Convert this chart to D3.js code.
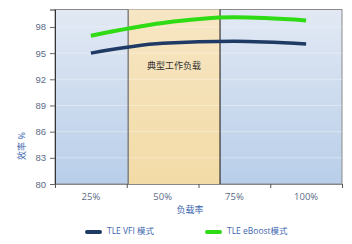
<!DOCTYPE html>
<html>
<head>
<meta charset="utf-8">
<script src="https://cdn.jsdelivr.net/npm/d3@7"></script>
<style>
  body { margin: 0; background: #fff; }
  svg { display: block; font-family: 'Open Sans', 'Noto Sans CJK SC', sans-serif; }
</style>
</head>
<body>
<div id="chart"></div>
<script>
const loads = [25, 50, 75, 100];
const loadLabels = ['25%', '50%', '75%', '100%'];
const vfi = [95.0, 96.13, 96.36, 96.05];
const eboost = [97.0, 98.45, 99.1, 98.75];
const yTicks = [80, 83, 86, 89, 92, 95, 98];
const typicalRange = [38, 70];
const typicalLabel = '典型工作负载';
const seriesNames = ['TLE VFI 模式', 'TLE eBoost模式'];

const width = 352;
const height = 244;
const margin = { top: 9.5, right: 10, bottom: 60, left: 55 };

const svg = d3.select('#chart')
  .append('svg')
  .attr('width', width)
  .attr('height', height);

const x = d3.scaleLinear()
  .domain([12.5, 112.5])
  .range([margin.left, width - margin.right]);

const y = d3.scaleLinear()
  .domain([80, 100])
  .range([height - margin.bottom, margin.top]);

const defs = svg.append('defs');
const bg = defs.append('linearGradient')
  .attr('id', 'bg').attr('x1', 0).attr('x2', 0).attr('y1', 0).attr('y2', 1);
bg.append('stop').attr('offset', '0%').attr('stop-color', '#e2e9f4');
bg.append('stop').attr('offset', '100%').attr('stop-color', '#b8cee9');

const band = defs.append('linearGradient')
  .attr('id', 'band').attr('x1', 0).attr('x2', 0).attr('y1', 0).attr('y2', 1);
band.append('stop').attr('offset', '0%').attr('stop-color', '#f7e6c4');
band.append('stop').attr('offset', '100%').attr('stop-color', '#f2dba6');

// plot background
svg.append('rect')
  .attr('x', x(12.5))
  .attr('y', y(100))
  .attr('width', x(112.5) - x(12.5))
  .attr('height', y(80) - y(100))
  .attr('fill', 'url(#bg)')
  .attr('stroke', '#8a8a8a')
  .attr('stroke-width', 1);

// typical workload band
svg.append('rect')
  .attr('x', x(typicalRange[0]))
  .attr('y', y(100))
  .attr('width', x(typicalRange[1]) - x(typicalRange[0]))
  .attr('height', y(80) - y(100))
  .attr('fill', 'url(#band)');

// grid lines
svg.append('g')
  .selectAll('line')
  .data(yTicks.filter((d) => d > 80))
  .enter()
  .append('line')
  .attr('x1', x(12.5))
  .attr('x2', x(112.5))
  .attr('y1', (d) => y(d))
  .attr('y2', (d) => y(d))
  .attr('stroke', '#ffffff')
  .attr('stroke-opacity', 0.35);

svg.append('line')
  .attr('x1', x(typicalRange[0]))
  .attr('x2', x(typicalRange[0]))
  .attr('y1', y(100))
  .attr('y2', y(80))
  .attr('stroke', '#808080')
  .attr('stroke-width', 1.5);

svg.append('line')
  .attr('x1', x(typicalRange[1]))
  .attr('x2', x(typicalRange[1]))
  .attr('y1', y(100))
  .attr('y2', y(80))
  .attr('stroke', '#111')
  .attr('stroke-width', 1);

svg.append('text')
  .attr('x', x((typicalRange[0] + typicalRange[1]) / 2))
  .attr('y', y(93.4))
  .attr('text-anchor', 'middle')
  .attr('dominant-baseline', 'middle')
  .attr('font-size', 9)
  .attr('fill', '#333')
  .text(typicalLabel);

// lines
const line = d3.line()
  .x((d, i) => x(loads[i]))
  .y((d) => y(d))
  .curve(d3.curveMonotoneX);

svg.append('path')
  .datum(eboost)
  .attr('d', line)
  .attr('fill', 'none')
  .attr('stroke', '#2fdb14')
  .attr('stroke-width', 4);

svg.append('path')
  .datum(vfi)
  .attr('d', line)
  .attr('fill', 'none')
  .attr('stroke', '#1f3a64')
  .attr('stroke-width', 3.5);

// y axis
const yAxis = svg.append('g')
  .attr('transform', `translate(${x(12.5)},0)`)
  .call(d3.axisLeft(y).tickValues(yTicks).tickSize(5).tickPadding(4));
yAxis.select('.domain').attr('stroke', '#333');
yAxis.selectAll('.tick line').attr('stroke', '#666');
yAxis.selectAll('text').attr('font-size', 9.5).attr('fill', '#5c6b86');

// x axis
const xAxis = svg.append('g')
  .attr('transform', `translate(0,${y(80)})`)
  .call(d3.axisBottom(x).tickValues([12.5, 37.5, 62.5, 87.5, 112.5]).tickSize(4).tickFormat(''));
xAxis.select('.domain').attr('stroke', '#888');
xAxis.selectAll('.tick line').attr('stroke', '#555');

svg.append('g')
  .selectAll('text')
  .data(loads)
  .enter()
  .append('text')
  .attr('x', (d) => x(d))
  .attr('y', y(80) + 16)
  .attr('text-anchor', 'middle')
  .attr('font-size', 9.5)
  .attr('fill', '#5c6b86')
  .text((d, i) => loadLabels[i]);

svg.append('text')
  .attr('x', x(59.5))
  .attr('y', y(80) + 29)
  .attr('text-anchor', 'middle')
  .attr('font-size', 9)
  .attr('fill', '#3c66b0')
  .text('负载率');

svg.append('text')
  .attr('transform', `translate(25,146) rotate(-90)`)
  .attr('text-anchor', 'middle')
  .attr('font-size', 9)
  .attr('fill', '#3c66b0')
  .text('效率 %');

// legend
const legend = svg.append('g');
const legendColors = ['#1f3a64', '#2fdb14'];
const legendX = [87, 207];
seriesNames.forEach((name, i) => {
  legend.append('line')
    .attr('x1', legendX[i])
    .attr('x2', legendX[i] + 13)
    .attr('y1', 232)
    .attr('y2', 232)
    .attr('stroke', legendColors[i])
    .attr('stroke-width', 4)
    .attr('stroke-linecap', 'round');
  legend.append('text')
    .attr('x', legendX[i] + 20)
    .attr('y', 232)
    .attr('dominant-baseline', 'middle')
    .attr('font-size', 8.5)
    .attr('fill', '#3c66b0')
    .text(name);
});
</script>
</body>
</html>
